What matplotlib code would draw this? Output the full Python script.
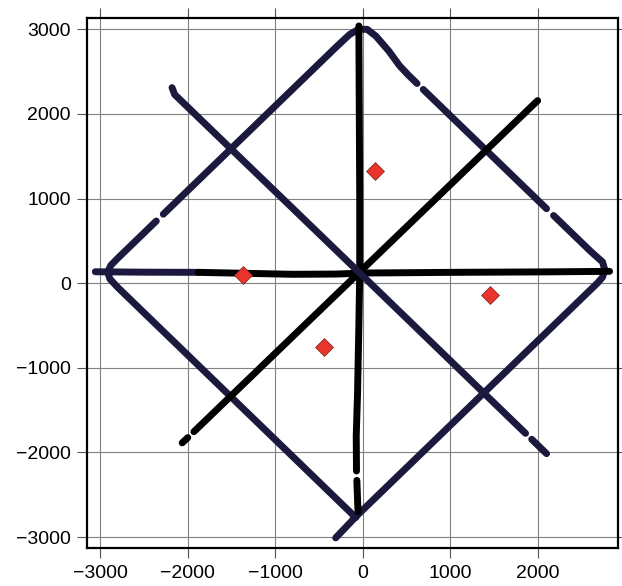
import matplotlib
matplotlib.use("Agg")
import matplotlib.pyplot as plt
import numpy as np

nan = np.nan

# navy track: diamond outline (with small data gaps)
diamond_x = [-310, -80, 1880, 2680, 2740, 2765, 2740, 2600, 2180, nan, 2100, 690, nan,
             620, 520, 420, 300, 150, 50, -50, -150, -300, -2280, nan, -2360,
             -2800, -2880, -2915, -2890, -2800, -80]
diamond_y = [-3010, -2760, -800, 0, 70, 160, 250, 380, 800, nan, 880, 2290, nan,
             2360, 2460, 2570, 2740, 2920, 3000, 3000, 2940, 2795, 815, nan, 735,
             295, 210, 130, 50, -50, -2770]

# navy track: diagonal from upper left to lower right
cross_x = [-2180, -2150, -2090, -45, 1860, nan, 1930, 2100]
cross_y = [2311, 2230, 2170, 130, -1775, nan, -1845, -2015]

# navy track: start of the east-west line
west_x = [-3057, -2500, -1880]
west_y = [135, 130, 128]

# black tracks
ew_x = [-1880, -1400, -800, -300, 0, 1000, 2000, 2820]
ew_y = [128, 118, 105, 108, 120, 128, 133, 140]

ns_x = [-45, -40, -35, -35, -45, -60, -75, -72, nan, -68, -55]
ns_y = [3040, 2000, 1000, 130, -500, -1300, -1800, -2220, nan, -2330, -2700]

diag_x = [-2064, -2000, nan, -1930, 1998]
diag_y = [-1887, -1825, nan, -1755, 2158]

# red stations
stat_x = [-1365, 137, 1450, -445]
stat_y = [100, 1321, -140, -755]

navy = '#1b1a3e'

fig = plt.figure(figsize=(6.22, 5.86), dpi=100)
ax = fig.add_axes([0.1404, 0.0648, 0.8527, 0.9039])

kw = dict(linewidth=5, solid_capstyle='round', solid_joinstyle='round')
ax.plot(diamond_x, diamond_y, color=navy, zorder=2, **kw)
ax.plot(west_x, west_y, color=navy, zorder=2, **kw)
ax.plot(ew_x, ew_y, color='black', zorder=3, **kw)
ax.plot(diag_x, diag_y, color='black', zorder=3, **kw)
ax.plot(ns_x, ns_y, color='black', zorder=3, **kw)
ax.plot(cross_x, cross_y, color=navy, zorder=4, **kw)

ax.plot(stat_x, stat_y, 'D', color='#e8342c', markersize=9.5,
        markeredgecolor='#7a2020', markeredgewidth=0.5, linestyle='none', zorder=5)

ax.set_xlim(-3148, 2913)
ax.set_ylim(-3130, 3130)
ax.set_xticks([-3000, -2000, -1000, 0, 1000, 2000])
ax.set_yticks([-3000, -2000, -1000, 0, 1000, 2000, 3000])

ax.grid(True, color='#808080', linewidth=0.8, zorder=0)
ax.set_axisbelow(True)
ax.tick_params(direction='out', length=7, width=0.8, color='#555555',
               top=True, right=True, labelsize=14, pad=5)
for lbl in ax.get_xticklabels() + ax.get_yticklabels():
    lbl.set_family(['Liberation Sans', 'DejaVu Sans'])
for sp in ax.spines.values():
    sp.set_linewidth(1.6)
    sp.set_zorder(6)

fig.savefig('out.png', dpi=100)
